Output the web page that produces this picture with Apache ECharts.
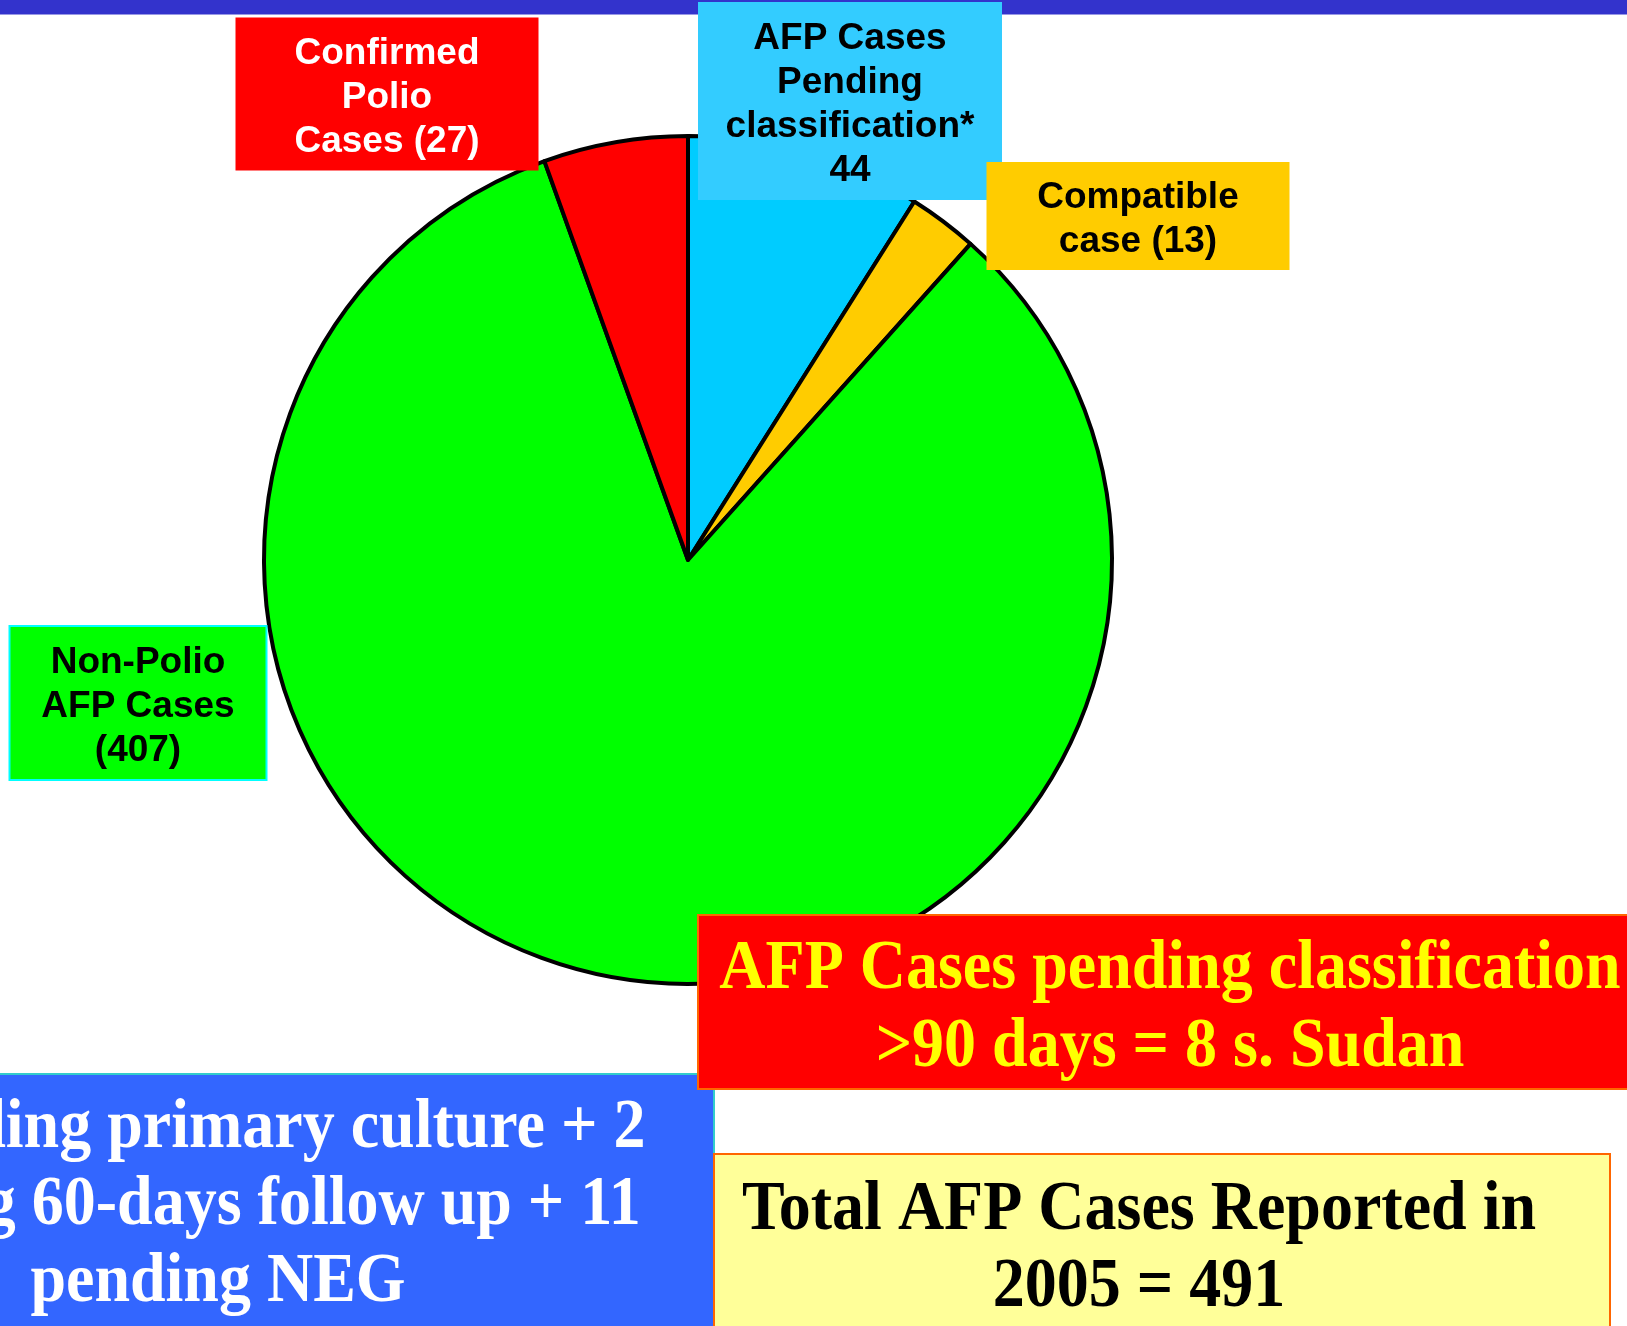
<!DOCTYPE html>
<html>
<head>
<meta charset="utf-8">
<title>AFP Cases 2005</title>
<script src="https://cdn.jsdelivr.net/npm/echarts@6/dist/echarts.min.js"></script>
<style>
  html, body { margin: 0; padding: 0; background: #fff; }
  #main { width: 1627px; height: 1326px; }
</style>
</head>
<body>
<div id="main"></div>
<script>
// slices, clockwise from 12 o'clock
var categories = ['Pending classification', 'Compatible', 'Non-Polio AFP', 'Confirmed Polio'];
var cases = [44, 13, 407, 27];
var labelTemplates = [
  'AFP Cases\nPending\nclassification*\n{v}',
  'Compatible\ncase ({v})',
  'Non-Polio\nAFP Cases\n({v})',
  'Confirmed\nPolio\nCases ({v})'
];
// note boxes
var totalReported = 491;
var reportYear = 2005;
var over90Days = 8;
var pendingBreakdown = [31, 2, 11];

var sliceColors = ['#00ccff', '#ffcc00', '#00ff00', '#ff0000'];
// label boxes: centre x, top y, width, height
var labelBoxes = [
  { x: 850, top: 2, w: 304, h: 198, bg: '#33ccff', color: '#000' },
  { x: 1138, top: 162, w: 303, h: 108, bg: '#ffcc00', color: '#000' },
  { x: 138, top: 627, w: 255, h: 152, bg: '#00ff00', color: '#000', border: '#00ffff' },
  { x: 387, top: 17.5, w: 303, h: 153, bg: '#ff0000', color: '#fff' }
];
var labelLineHeight = 44;

var myChart = echarts.init(document.getElementById('main'));

var pieData = categories.map(function (name, i) {
  var b = labelBoxes[i];
  var text = labelTemplates[i].replace('{v}', cases[i]);
  var nLines = text.split('\n').length;
  var padTop = (b.h - nLines * labelLineHeight) / 2 + 4;
  return {
    name: name,
    value: cases[i],
    itemStyle: { color: sliceColors[i] },
    label: {
      formatter: text,
      color: b.color,
      backgroundColor: b.bg,
      borderColor: b.border || 'transparent',
      borderWidth: b.border ? 2 : 0,
      padding: [padTop, 0, 0, 0],
      width: b.w,
      height: b.h - padTop
    }
  };
});

var serifFont = 'bold 64px "Liberation Serif", "Times New Roman", serif';

function noteBox(x, y, w, h, fill, stroke, text, tx, ty, color, lh) {
  return {
    type: 'group',
    z: 20,
    children: [
      {
        type: 'rect',
        z: 20,
        shape: { x: x, y: y, width: w, height: h },
        style: { fill: fill, stroke: stroke, lineWidth: 2 }
      },
      {
        type: 'text',
        z: 21,
        x: tx,
        y: ty,
        scaleY: 1.1,
        style: {
          text: text,
          x: 0,
          y: 0,
          fill: color,
          font: serifFont,
          lineHeight: lh,
          align: 'center',
          verticalAlign: 'middle'
        }
      }
    ]
  };
}

var option = {
  backgroundColor: '#ffffff',
  animation: false,
  graphic: [
    {
      type: 'rect',
      z: 0,
      shape: { x: 0, y: 0, width: 1627, height: 14.5 },
      style: { fill: '#3333cc' }
    },
    noteBox(-10, 1074, 724, 270, '#3366ff', '#33cccc',
      pendingBreakdown[0] + ' pending primary culture + ' + pendingBreakdown[1] +
      '\npending 60-days follow up + ' + pendingBreakdown[2] + '\npending NEG',
      218, 1206, '#ffffff', 70),
    noteBox(714, 1154, 896, 190, '#ffff99', '#ff6600',
      'Total AFP Cases Reported in\n' + reportYear + ' = ' + totalReported,
      1139, 1249, '#000000', 70),
    noteBox(698, 915, 960, 174, '#ff0000', '#ff6600',
      'AFP Cases pending classification\n>90 days = ' + over90Days + ' s. Sudan',
      1170, 1009, '#ffff00', 71)
  ],
  series: [
    {
      name: 'AFP Cases',
      type: 'pie',
      z: 2,
      center: [688, 560],
      radius: 424,
      startAngle: 90,
      clockwise: true,
      avoidLabelOverlap: false,
      itemStyle: { borderColor: '#000000', borderWidth: 4 },
      label: {
        show: true,
        position: 'inside',
        fontFamily: '"Liberation Sans", Arial, sans-serif',
        fontWeight: 'bold',
        fontSize: 37,
        lineHeight: labelLineHeight,
        align: 'center',
        verticalAlign: 'top'
      },
      labelLine: { show: false },
      labelLayout: function (params) {
        var b = labelBoxes[params.dataIndex];
        return { x: b.x, y: b.top, align: 'center', verticalAlign: 'top' };
      },
      emphasis: { disabled: true },
      data: pieData
    }
  ]
};

myChart.setOption(option);
</script>
</body>
</html>
